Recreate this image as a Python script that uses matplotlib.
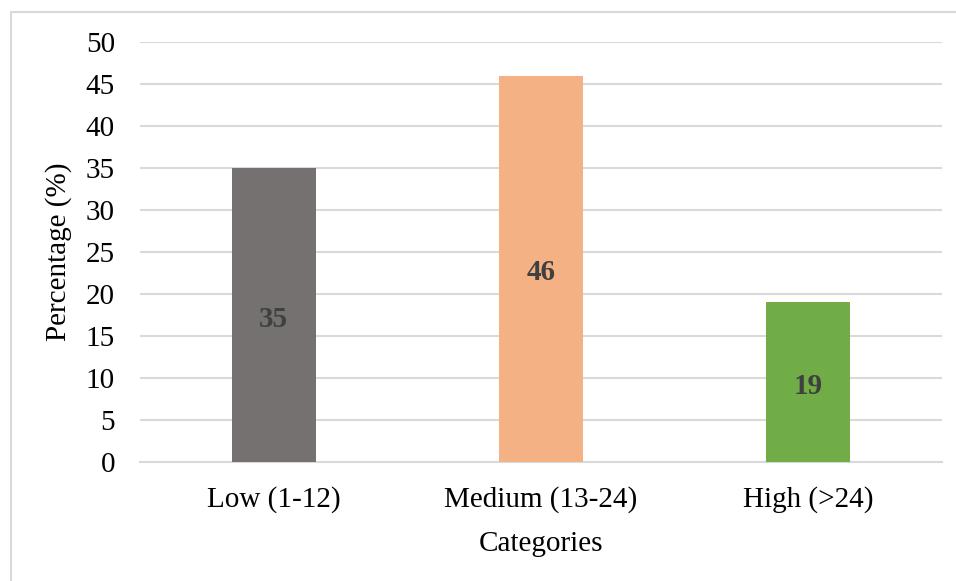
import matplotlib
matplotlib.use("Agg")
import matplotlib.pyplot as plt
from matplotlib.patches import Rectangle
from matplotlib.transforms import offset_copy

categories = ["Low (1-12)", "Medium (13-24)", "High (>24)"]
percentages = [35, 46, 19]
bar_colors = ["#767171", "#F4B183", "#70AD47"]
y_ticks = list(range(0, 51, 5))

plt.rcParams["font.family"] = ["Liberation Serif", "DejaVu Serif"]

W, H = 956, 581
fig = plt.figure(figsize=(W / 100, H / 100), dpi=100)

# outer chart frame
fig.patches.append(Rectangle((11 / W, -0.05), 1.0, 1.05 - 12 / H,
                             transform=fig.transFigure, fill=False,
                             edgecolor="#D9D9D9", linewidth=1.5))

ax = fig.add_axes([140 / W, 1 - 462 / H, (942 - 140) / W, (462 - 42) / H])
x = range(len(categories))
ax.bar(x, percentages, width=0.314, color=bar_colors, zorder=3)

label_tf = offset_copy(ax.transData, fig=fig, x=0, y=-3, units="points")
for xi, v in zip(x, percentages):
    ax.text(xi, v / 2, f"{v}", ha="center", va="center", fontsize=21,
            fontweight="bold", color="#404040", zorder=4, transform=label_tf)

ax.set_xlim(-0.5, 2.5)
ax.set_ylim(0, 50)
ax.set_yticks(y_ticks)
ax.set_xticks(list(x))
ax.set_xticklabels(categories)
ax.tick_params(axis="both", length=0, labelsize=21, colors="black")
ax.tick_params(axis="y", pad=18)
ax.tick_params(axis="x", pad=17)
ax.grid(axis="y", color="#D9D9D9", linewidth=1.5, zorder=0)
for s in ["top", "right", "left"]:
    ax.spines[s].set_visible(False)
ax.spines["bottom"].set_color("#D9D9D9")
ax.spines["bottom"].set_linewidth(1.5)

ax.set_ylabel("Percentage (%)", fontsize=21, labelpad=10)
ax.set_xlabel("Categories", fontsize=21, labelpad=13)

fig.savefig("out.png", dpi=100)
